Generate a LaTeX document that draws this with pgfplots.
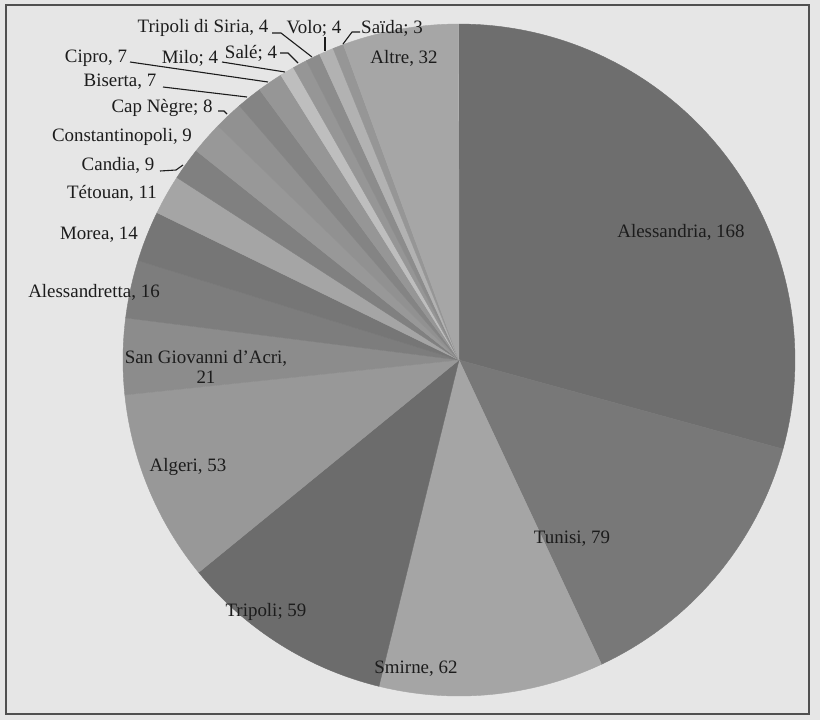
\documentclass[border=0pt]{standalone}
\usepackage{pgfplots}
\usepackage{pgfplotstable}
\pgfplotsset{compat=1.18}
\usepackage{fontspec}
\setmainfont{Liberation Serif}
\definecolor{bg}{RGB}{230,230,230}
\definecolor{txt}{RGB}{28,28,28}
\definecolor{frame}{RGB}{80,80,80}

% value, gray level (0-255) of each slice, clockwise from 12 o'clock
\pgfplotstableread{
value g
168 110
79 120
62 165
59 108
53 152
21 140
16 125
14 118
11 165
9 128
9 152
8 145
7 132
7 150
4 190
4 150
4 140
4 178
3 150
32 166
}\piedata

\begin{document}
\begin{tikzpicture}
\fill[bg] (0,0) rectangle (820bp,720bp);
\begin{axis}[width=820bp,height=720bp,scale only axis,
  xmin=0,xmax=820,ymin=0,ymax=720,y dir=reverse,hide axis,clip=false]
\pgfmathsetmacro\pietotal{0}
\pgfplotsforeachungrouped \i in {0,...,19}{%
  \pgfplotstablegetelem{\i}{value}\of\piedata
  \pgfmathsetmacro\pietotal{\pietotal+\pgfplotsretval}%
}
\def\startang{90}
\pgfplotsforeachungrouped \i in {0,...,19}{%
  \pgfplotstablegetelem{\i}{value}\of\piedata
  \let\v\pgfplotsretval
  \pgfplotstablegetelem{\i}{g}\of\piedata
  \let\g\pgfplotsretval
  \pgfmathsetmacro\endang{\startang-360*(\v/\pietotal)}%
  \edef\cmd{\noexpand\addplot[draw={rgb,255:red,\g;green,\g;blue,\g},line width=0.4bp,fill={rgb,255:red,\g;green,\g;blue,\g},domain=\endang:\startang,samples=90] ({459+336*cos(x)},{360-336*sin(x)}) -- (axis cs:459,360) -- cycle;}%
  \cmd
  \global\let\startang\endang
}
\draw[frame,line width=1.5bp] (axis cs:6,5) rectangle (axis cs:809,714);
\begin{scope}[every node/.style={font=\fontsize{19}{20}\selectfont,text=txt,inner sep=0pt}]
\node at (axis cs:681,232) {Alessandria, 168};
\node at (axis cs:572,539) {Tunisi, 79};
\node at (axis cs:416,669) {Smirne, 62};
\node at (axis cs:266,612) {Tripoli; 59};
\node at (axis cs:188,467) {Algeri, 53};
\node[align=center] at (axis cs:206,367) {San Giovanni d'Acri,\\21};
\node at (axis cs:94,292) {Alessandretta, 16};
\node at (axis cs:99,235) {Morea, 14};
\node at (axis cs:112,193) {Tétouan, 11};
\node at (axis cs:118,165) {Candia, 9};
\node at (axis cs:122,137) {Constantinopoli, 9};
\node at (axis cs:162,108) {Cap Nègre; 8};
\node at (axis cs:120,82) {Biserta, 7};
\node at (axis cs:96,58) {Cipro, 7};
\node at (axis cs:190,58) {Milo; 4};
\node at (axis cs:251,53) {Salé; 4};
\node at (axis cs:203,28) {Tripoli di Siria, 4};
\node at (axis cs:314,28) {Volo; 4};
\node at (axis cs:392,28) {Saïda; 3};
\node at (axis cs:404,58) {Altre, 32};
\end{scope}
\begin{scope}[txt,line width=1.1bp]
\draw (axis cs:272,33) -- (axis cs:281,33) -- (axis cs:312,57);
\draw (axis cs:325,37) -- (axis cs:325,51);
\draw (axis cs:360,32) -- (axis cs:352,32) -- (axis cs:343,44);
\draw (axis cs:280,53) -- (axis cs:288,53) -- (axis cs:298,63);
\draw (axis cs:222,62) -- (axis cs:285,72);
\draw (axis cs:130,62) -- (axis cs:268,82);
\draw (axis cs:163,87) -- (axis cs:247,97);
\draw (axis cs:218,111) -- (axis cs:224,111) -- (axis cs:227,114);
\draw (axis cs:160,171) -- (axis cs:176,170) -- (axis cs:183,165);
\end{scope}
\end{axis}
\end{tikzpicture}
\end{document}
